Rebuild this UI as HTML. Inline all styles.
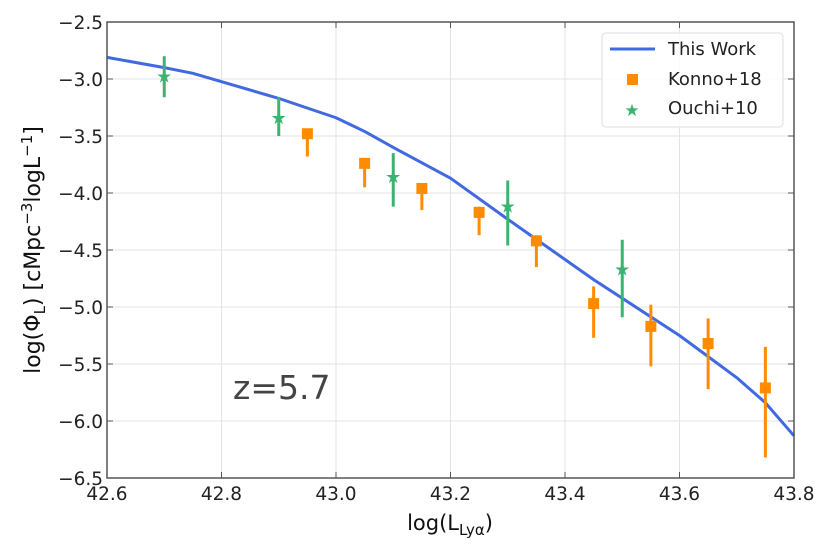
<!DOCTYPE html>
<html><head><meta charset="utf-8"><style>
body{margin:0;background:#fff}
svg{display:block;font-family:"DejaVu Sans","Liberation Sans",sans-serif}
</style></head><body>
<svg id="c" width="830" height="554" viewBox="0 0 830 554">
<g id="grid"></g>
<g id="series"></g>
<rect x="107" y="22" width="687" height="456" fill="none" stroke="#555" stroke-width="1.5"/>
<g id="ticks"></g>
<text x="233" y="399" font-size="33" fill="#444">z=5.7</text>
<text x="450" y="530" font-size="21" text-anchor="middle" fill="#111">log(L<tspan font-size="15" dy="5">Lyα</tspan><tspan dy="-5">)</tspan></text>
<text transform="translate(40,250) rotate(-90)" font-size="22" text-anchor="middle" fill="#111">log(Φ<tspan font-size="15" dy="5">L</tspan><tspan dy="-5">) [cMpc</tspan><tspan font-size="15" dy="-8">−3</tspan><tspan dy="8">logL</tspan><tspan font-size="15" dy="-8">−1</tspan><tspan dy="8">]</tspan></text>
<g>
<rect x="602" y="33" width="181" height="94" rx="4" fill="#fff" fill-opacity="0.85" stroke="#ddd"/>
<line x1="610" y1="49" x2="655" y2="49" stroke="#4169e1" stroke-width="3"/>
<text x="668" y="55" font-size="18" fill="#222">This Work</text>
<rect x="627" y="74" width="11" height="11" fill="#ff8c00"/>
<text x="668" y="85" font-size="18" fill="#222">Konno+18</text>
<text x="632" y="116" font-size="17" fill="#3cb371" text-anchor="middle">★</text>
<text x="668" y="114" font-size="18" fill="#222">Ouchi+10</text>
</g>
</svg>
<script>
const xTicks=[42.6,42.8,43.0,43.2,43.4,43.6,43.8];
const xTickLabels=["42.6","42.8","43.0","43.2","43.4","43.6","43.8"];
const yTicks=[-2.5,-3.0,-3.5,-4.0,-4.5,-5.0,-5.5,-6.0,-6.5];
const yTickLabels=["−2.5","−3.0","−3.5","−4.0","−4.5","−5.0","−5.5","−6.0","−6.5"];
const lineX=[42.6,42.7,42.75,42.9,43.0,43.05,43.1,43.2,43.3,43.45,43.6,43.7,43.75,43.8];
const lineY=[-2.81,-2.9,-2.95,-3.17,-3.34,-3.46,-3.6,-3.87,-4.23,-4.76,-5.25,-5.62,-5.84,-6.13];
const konnoX=[42.95,43.05,43.15,43.25,43.35,43.45,43.55,43.65,43.75];
const konnoY=[-3.48,-3.74,-3.96,-4.17,-4.42,-4.97,-5.17,-5.32,-5.71];
const konnoLo=[-3.68,-3.95,-4.15,-4.37,-4.65,-5.27,-5.52,-5.72,-6.32];
const konnoHi=[-3.45,-3.7,-3.92,-4.12,-4.37,-4.82,-4.98,-5.1,-5.35];
const ouchiX=[42.7,42.9,43.1,43.3,43.5];
const ouchiY=[-2.98,-3.34,-3.86,-4.12,-4.67];
const ouchiLo=[-3.16,-3.5,-4.12,-4.46,-5.09];
const ouchiHi=[-2.8,-3.16,-3.65,-3.89,-4.41];
const X0=107,X1=794,Y0=22,Y1=478;
const sx=v=>X0+(v-42.6)/(1.2)*(X1-X0);
const sy=v=>Y0+(-2.5-v)/4*(Y1-Y0);
const NS="http://www.w3.org/2000/svg";
function mk(t,a,p){const e=document.createElementNS(NS,t);for(const k in a)e.setAttribute(k,a[k]);p.appendChild(e);return e;}
const G=document.getElementById('grid'),T=document.getElementById('ticks'),S=document.getElementById('series');
xTicks.forEach((v,i)=>{const x=sx(v);
 let g=mk('line',{x1:x,x2:x,y1:Y0,y2:Y1,stroke:'#e3e3e3','stroke-width':1},G);
 
 let t1=mk('line',{x1:x,x2:x,y1:Y1,y2:Y1-6,stroke:'#555'},T);
 let t2=mk('line',{x1:x,x2:x,y1:Y0,y2:Y0+6,stroke:'#555'},T);
 let l=mk('text',{x:x,y:Y1+22,'font-size':18.5,'text-anchor':'middle',fill:'#222'},T);l.textContent=xTickLabels[i];
 });
yTicks.forEach((v,i)=>{const y=sy(v);
 let g=mk('line',{x1:X0,x2:X1,y1:y,y2:y,stroke:'#e3e3e3','stroke-width':1},G);
 
 let t1=mk('line',{x1:X0,x2:X0+6,y1:y,y2:y,stroke:'#555'},T);
 let t2=mk('line',{x1:X1,x2:X1-6,y1:y,y2:y,stroke:'#555'},T);
 let l=mk('text',{x:X0-4,y:y+7,'font-size':18.5,'text-anchor':'end',fill:'#222'},T);l.textContent=yTickLabels[i];
 });
let d=lineX.map((v,i)=>(i?'L':'M')+sx(v)+','+sy(lineY[i])).join('');
let p=mk('path',{d:d,fill:'none',stroke:'#4169e1','stroke-width':3,'stroke-linejoin':'round'},S);

konnoX.forEach((v,i)=>{const x=sx(v);
 let e=mk('line',{x1:x,x2:x,y1:sy(konnoLo[i]),y2:sy(konnoHi[i]),stroke:'#ff8c00','stroke-width':3},S);
 
 let r=mk('rect',{x:x-5.5,y:sy(konnoY[i])-5.5,width:11,height:11,fill:'#ff8c00'},S);
 });
ouchiX.forEach((v,i)=>{const x=sx(v);
 let e=mk('line',{x1:x,x2:x,y1:sy(ouchiLo[i]),y2:sy(ouchiHi[i]),stroke:'#3cb371','stroke-width':3},S);
 
 let s=mk('text',{x:x,y:sy(ouchiY[i])+6,'font-size':18,'text-anchor':'middle',fill:'#3cb371'},S);s.textContent='★';
 });
</script>
</body></html>
